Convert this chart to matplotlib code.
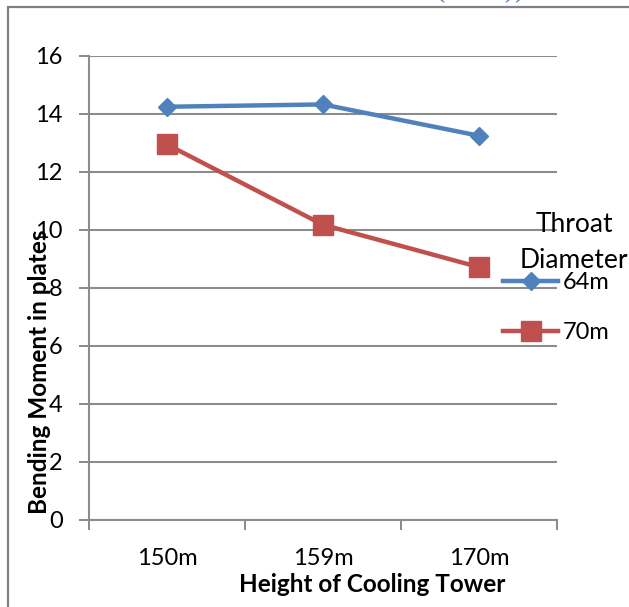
import matplotlib
matplotlib.use("Agg")
import matplotlib.pyplot as plt
from matplotlib.patches import Rectangle

categories = ["150m", "159m", "170m"]
series_names = ["64m", "70m"]
d64 = [14.25, 14.33, 13.25]
d70 = [12.95, 10.18, 8.72]
yticks = [0, 2, 4, 6, 8, 10, 12, 14, 16]

plt.rcParams['font.family'] = ['Lato', 'DejaVu Sans']

W, H = 629, 607
fig = plt.figure(figsize=(W/100, H/100), dpi=100)
ax = fig.add_axes([89/W, 1-520/H, (557-89)/W, (520-56)/H])

x = list(range(len(categories)))
ax.plot(x, d64, color='#4F81BD', lw=3.2, marker='D', ms=9.5, label=series_names[0], zorder=3)
ax.plot(x, d70, color='#C0504D', lw=3.2, marker='s', ms=14, label=series_names[1], zorder=3)

ax.set_xlim(-0.5, 2.5)
ax.set_ylim(0, 16)
ax.set_yticks(yticks)
ax.set_yticklabels([str(v) for v in yticks], fontsize=17)
ax.set_xticks(x)
ax.set_xticklabels(categories, fontsize=17)
ax.set_xticks([-0.5, 0.5, 1.5, 2.5], minor=True)
ax.tick_params(axis='x', which='major', length=0, pad=20)
ax.tick_params(axis='x', which='minor', length=7, color='#888888', width=1.4)
ax.tick_params(axis='y', length=7, color='#888888', width=1.4, pad=12)
ax.yaxis.grid(True, color='#8C8C8C', lw=1.5)
ax.set_axisbelow(True)
for s in ['top', 'right']:
    ax.spines[s].set_visible(False)
for s in ['left', 'bottom']:
    ax.spines[s].set_color('#8C8C8C')
    ax.spines[s].set_linewidth(1.5)

fig.text(372/W, 1-585/H, "Height of Cooling Tower", fontsize=17.5, fontweight='bold',
         ha='center', va='center')
fig.text(40/W, 1-372/H, "Bending Moment in plates", rotation=90, fontsize=17.5,
         fontweight='bold', ha='center', va='center')

fig.text(574/W, 1-225/H, "Throat", fontsize=19, ha='center', va='center')
fig.text(574/W, 1-260/H, "Diameter", fontsize=19, ha='center', va='center')
leg = ax.legend(loc='upper left', bbox_to_anchor=(503/W, 1-272/H), bbox_transform=fig.transFigure,
                frameon=False, fontsize=17, handlelength=2.35, handletextpad=0.2,
                labelspacing=1.22, borderaxespad=0, borderpad=0)

fig.patches.append(Rectangle((8/W, -0.1), 1.2, (1-7/H)+0.1, transform=fig.transFigure,
                             fill=False, edgecolor='#808080', lw=1.6))
fig.text(435/W, 1+5/H, "(2013))", color='#4F81BD', fontsize=22, ha='left', va='baseline',
         fontfamily='Liberation Serif')

fig.savefig("out.png", dpi=100)
